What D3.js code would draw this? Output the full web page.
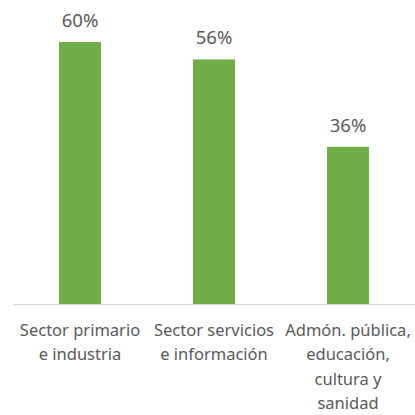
<!DOCTYPE html>
<html lang="es">
<head>
    <meta charset="UTF-8">
    <title>Sectores</title>
    <script src="https://d3js.org/d3.v7.min.js"></script>
    <style>
        body { margin: 0; background: #fff; }
        text { font-family: "Noto Sans", "Open Sans", sans-serif; fill: #595959; }
    </style>
</head>
<body>
<script>
    // datos
    var categories = ["Sector primario|e industria", "Sector servicios|e información", "Admón. pública,|educación,|cultura y|sanidad"];
    var values = [60, 56, 36];
    var valueLabels = ["60%", "56%", "36%"];

    var width = 415, height = 415;

    var svg = d3.select("body")
        .append("svg")
        .attr("width", width)
        .attr("height", height);

    var x = d3.scaleBand()
        .domain(categories)
        .range([13, 415])
        .paddingInner(0.687)
        .paddingOuter(0.3435);

    var y = d3.scaleLinear()
        .domain([0, 60])
        .range([304, 42]);

    // barras
    svg.selectAll("rect.bar")
        .data(values)
        .enter()
        .append("rect")
        .attr("class", "bar")
        .attr("x", function (d, i) { return x(categories[i]); })
        .attr("y", function (d) { return y(d); })
        .attr("width", x.bandwidth())
        .attr("height", function (d) { return y(0) - y(d); })
        .attr("fill", "#70ad47");

    // eje
    svg.append("line")
        .attr("x1", 13)
        .attr("x2", 415)
        .attr("y1", y(0) + 0.5)
        .attr("y2", y(0) + 0.5)
        .attr("stroke", "#d9d9d9")
        .attr("stroke-width", 1);

    // etiquetas de valor
    svg.selectAll("text.val")
        .data(values)
        .enter()
        .append("text")
        .attr("class", "val")
        .attr("x", function (d, i) { return x(categories[i]) + x.bandwidth() / 2; })
        .attr("y", function (d) { return y(d) - 15; })
        .attr("text-anchor", "middle")
        .style("font-size", "18.5px")
        .text(function (d, i) { return valueLabels[i]; });

    // etiquetas de categoría
    var catText = svg.selectAll("text.cat")
        .data(categories)
        .enter()
        .append("text")
        .attr("class", "cat")
        .attr("text-anchor", "middle")
        .style("font-size", "16.5px")
        .attr("transform", function (d) { return "translate(" + (x(d) + x.bandwidth() / 2) + ",336)"; });

    catText.selectAll("tspan")
        .data(function (d) { return d.split("|"); })
        .enter()
        .append("tspan")
        .attr("x", 0)
        .attr("y", function (d, i) { return i * 24.3; })
        .text(function (d) { return d; });
</script>
</body>
</html>
